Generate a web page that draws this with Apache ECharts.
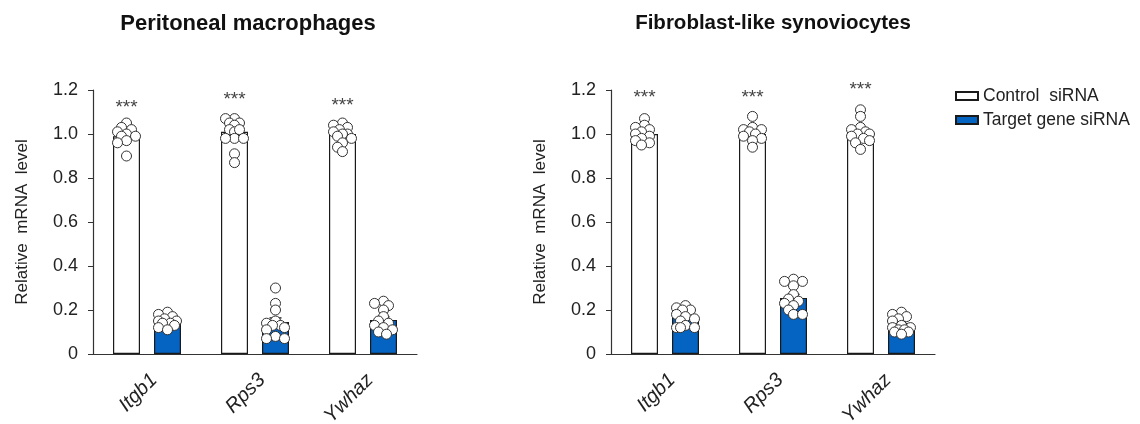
<!DOCTYPE html>
<html><head><meta charset="utf-8">
<script src="https://cdn.jsdelivr.net/npm/echarts@6/dist/echarts.min.js"></script>
<style>html,body{margin:0;padding:0;background:#fff}#c{width:1140px;height:424px}</style>
</head><body><div id="c"></div>
<script>
// ---- data ----
const categories = ['Itgb1', 'Rps3', 'Ywhaz'];
const yTickLabels = ['0', '0.2', '0.4', '0.6', '0.8', '1.0', '1.2'];
const seriesNames = ['Control  siRNA', 'Target gene siRNA'];
const titles = ['Peritoneal macrophages', 'Fibroblast-like synoviocytes'];
const yAxisName = 'Relative  mRNA  level';
const sigLabel = '***';

// Peritoneal macrophages
const pmCtrlMean = [0.99, 1.01, 1.00];
const pmTgtMean = [0.14, 0.145, 0.155];
const pmCtrlSem = [0.013, 0.017, 0.012];
const pmTgtSem = [0.008, 0.019, 0.014];
const pmCtrlPts = [
  [1.05, 1.03, 1.01, 1.02, 1.00, 0.99, 0.99, 0.97, 0.96, 0.90],
  [1.07, 1.07, 1.05, 1.05, 1.04, 1.02, 1.01, 1.02, 0.98, 0.98, 0.98, 0.91, 0.87],
  [1.05, 1.04, 1.03, 1.02, 1.01, 1.00, 1.00, 0.99, 0.98, 0.96, 0.94, 0.92]
];
const pmTgtPts = [
  [0.19, 0.18, 0.17, 0.16, 0.15, 0.15, 0.14, 0.14, 0.13, 0.12, 0.11],
  [0.30, 0.23, 0.20, 0.15, 0.14, 0.13, 0.13, 0.12, 0.11, 0.08, 0.07, 0.07],
  [0.24, 0.23, 0.22, 0.20, 0.17, 0.15, 0.14, 0.13, 0.12, 0.11, 0.10, 0.09]
];
const pmStarY = [1.12, 1.155, 1.13];

// Fibroblast-like synoviocytes
const flsCtrlMean = [1.00, 1.00, 1.01];
const flsTgtMean = [0.17, 0.255, 0.13];
const flsCtrlSem = [0.011, 0.013, 0.015];
const flsTgtSem = [0.010, 0.016, 0.009];
const flsCtrlPts = [
  [1.07, 1.04, 1.03, 1.02, 1.01, 1.00, 0.99, 0.98, 0.97, 0.96, 0.95],
  [1.08, 1.03, 1.02, 1.02, 1.01, 1.00, 0.99, 0.98, 0.97, 0.94],
  [1.11, 1.08, 1.03, 1.02, 1.01, 1.00, 1.00, 0.99, 0.98, 0.97, 0.96, 0.93]
];
const flsTgtPts = [
  [0.22, 0.21, 0.20, 0.20, 0.18, 0.17, 0.16, 0.15, 0.13, 0.12, 0.12, 0.12],
  [0.34, 0.33, 0.33, 0.31, 0.27, 0.25, 0.24, 0.23, 0.22, 0.20, 0.18, 0.18],
  [0.19, 0.18, 0.17, 0.16, 0.15, 0.13, 0.12, 0.12, 0.11, 0.11, 0.10, 0.10, 0.09]
];
const flsStarY = [1.165, 1.165, 1.2];

// ---- layout / style ----
const FONT = 'Liberation Sans, Arial, sans-serif';
const BLUE = '#0563C1';
const BAR_W = 27, BAR_GAP = 14;
const SIDE = (BAR_W + BAR_GAP) / 2;
const GRID_H = 264, YMAX = 1.2;
const PX_PER_UNIT = GRID_H / YMAX;
const DOT_R = 5;

function swarm(vals) {
  const order = vals.map((v, i) => i).sort((a, b) => vals[b] - vals[a]);
  const placed = [];
  const dx = new Array(vals.length).fill(0);
  const cands = [0, -5, 5, -9, 9, -3, 3, -7, 7];
  for (const i of order) {
    const y = vals[i] * PX_PER_UNIT;
    let best = 0, bestD = -1;
    for (const c of cands) {
      let md = Infinity;
      for (const p of placed) md = Math.min(md, Math.hypot(p[0] - c, p[1] - y));
      if (md >= 6.5) { best = c; bestD = md; break; }
      if (md > bestD) { bestD = md; best = c; }
    }
    dx[i] = best; placed.push([best, y]);
  }
  return dx;
}

function pointData(ptsArr, side) {
  const out = [];
  ptsArr.forEach((vals, ci) => {
    const dx = swarm(vals);
    vals.forEach((v, j) => out.push([ci, v, side, dx[j]]));
  });
  return out;
}
function errData(mean, sem, side) {
  return mean.map((m, i) => [i, m, sem[i], side]);
}

function barSeries(gi, name, data, color) {
  return {
    type: 'bar', name, xAxisIndex: gi, yAxisIndex: gi, data,
    barWidth: BAR_W, barGap: (BAR_GAP / BAR_W * 100) + '%',
    itemStyle: { color, borderColor: '#1a1a1a', borderWidth: 1.2 },
    z: 2, silent: true
  };
}
function errSeries(gi, data) {
  return {
    type: 'custom', name: 'err' + gi, xAxisIndex: gi, yAxisIndex: gi, data, z: 3, silent: true,
    renderItem(params, api) {
      const side = api.value(3) ? SIDE : -SIDE;
      const m = api.value(1), s = api.value(2);
      const top = api.coord([api.value(0), m + s]);
      const bot = api.coord([api.value(0), m - s]);
      const x = top[0] + side;
      const st = { stroke: '#000', lineWidth: 1.2 };
      return { type: 'group', children: [
        { type: 'line', shape: { x1: x, y1: top[1], x2: x, y2: bot[1] }, style: st },
        { type: 'line', shape: { x1: x - 6, y1: top[1], x2: x + 6, y2: top[1] }, style: st },
        { type: 'line', shape: { x1: x - 6, y1: bot[1], x2: x + 6, y2: bot[1] }, style: st }
      ]};
    }
  };
}
function ptSeries(gi, data) {
  return {
    type: 'custom', name: 'pts' + gi, xAxisIndex: gi, yAxisIndex: gi, data, z: 4, silent: true,
    renderItem(params, api) {
      const side = api.value(2) ? SIDE : -SIDE;
      const c = api.coord([api.value(0), api.value(1)]);
      return { type: 'circle', shape: { cx: c[0] + side + api.value(3), cy: c[1], r: DOT_R },
        style: { fill: '#fff', stroke: '#333', lineWidth: 1 } };
    }
  };
}
function starSeries(gi, starY) {
  return {
    type: 'custom', name: 'sig' + gi, xAxisIndex: gi, yAxisIndex: gi,
    data: starY.map((v, i) => [i, v]), z: 5, silent: true,
    renderItem(params, api) {
      const c = api.coord([api.value(0), api.value(1)]);
      return { type: 'text', x: c[0] - SIDE, y: c[1],
        style: { text: sigLabel, fill: '#444', font: '19px ' + FONT, align: 'center', verticalAlign: 'middle' } };
    }
  };
}

const grids = [
  { left: 93, top: 90, width: 324, height: GRID_H, containLabel: false, outerBoundsMode: 'none' },
  { left: 611, top: 90, width: 324, height: GRID_H, containLabel: false, outerBoundsMode: 'none' }
];
const xAxes = grids.map((g, i) => ({
  type: 'category', gridIndex: i, data: categories,
  axisLine: { lineStyle: { color: '#333', width: 1.2 } },
  axisTick: { alignWithLabel: true, length: 5, lineStyle: { color: '#333' } },
  axisLabel: { rotate: 45, margin: 16, verticalAlign: 'top', fontSize: 20, fontStyle: 'italic', fontFamily: FONT, color: '#222' }
}));
const yAxes = grids.map((g, i) => ({
  type: 'value', gridIndex: i, min: 0, max: YMAX, interval: 0.2,
  name: yAxisName, nameLocation: 'middle', nameGap: 62,
  nameTextStyle: { fontSize: 17, fontFamily: FONT, color: '#222' },
  axisLine: { show: true, lineStyle: { color: '#333', width: 1.2 } },
  axisTick: { show: true, length: 5, lineStyle: { color: '#333' } },
  splitLine: { show: false },
  axisLabel: { margin: 15, fontSize: 18, fontFamily: FONT, color: '#222',
    formatter: v => yTickLabels[Math.round(v / 0.2)] }
}));

const option = {
  animation: false,
  backgroundColor: '#fff',
  title: [
    { text: titles[0], left: 243, top: 8, textAlign: 'center', textStyle: { fontSize: 22, fontWeight: 'bold', fontFamily: FONT, color: '#111' } },
    { text: titles[1], left: 768, top: 8, textAlign: 'center', textStyle: { fontSize: 20.5, fontWeight: 'bold', fontFamily: FONT, color: '#111' } }
  ],
  legend: {
    data: seriesNames, orient: 'vertical', left: 955, top: 87, padding: 0, itemWidth: 22, itemHeight: 8, itemGap: 6,
    icon: 'rect', textStyle: { fontSize: 17.5, lineHeight: 16, fontFamily: FONT, color: '#222' }, selectedMode: false
  },
  grid: grids, xAxis: xAxes, yAxis: yAxes,
  series: [
    barSeries(0, seriesNames[0], pmCtrlMean, '#fff'),
    barSeries(0, seriesNames[1], pmTgtMean, BLUE),
    errSeries(0, errData(pmCtrlMean, pmCtrlSem, 0).concat(errData(pmTgtMean, pmTgtSem, 1))),
    ptSeries(0, pointData(pmCtrlPts, 0).concat(pointData(pmTgtPts, 1))),
    starSeries(0, pmStarY),
    barSeries(1, seriesNames[0], flsCtrlMean, '#fff'),
    barSeries(1, seriesNames[1], flsTgtMean, BLUE),
    errSeries(1, errData(flsCtrlMean, flsCtrlSem, 0).concat(errData(flsTgtMean, flsTgtSem, 1))),
    ptSeries(1, pointData(flsCtrlPts, 0).concat(pointData(flsTgtPts, 1))),
    starSeries(1, flsStarY)
  ]
};
const chart = echarts.init(document.getElementById('c'), null, { renderer: 'canvas' });
chart.setOption(option);
</script></body></html>
